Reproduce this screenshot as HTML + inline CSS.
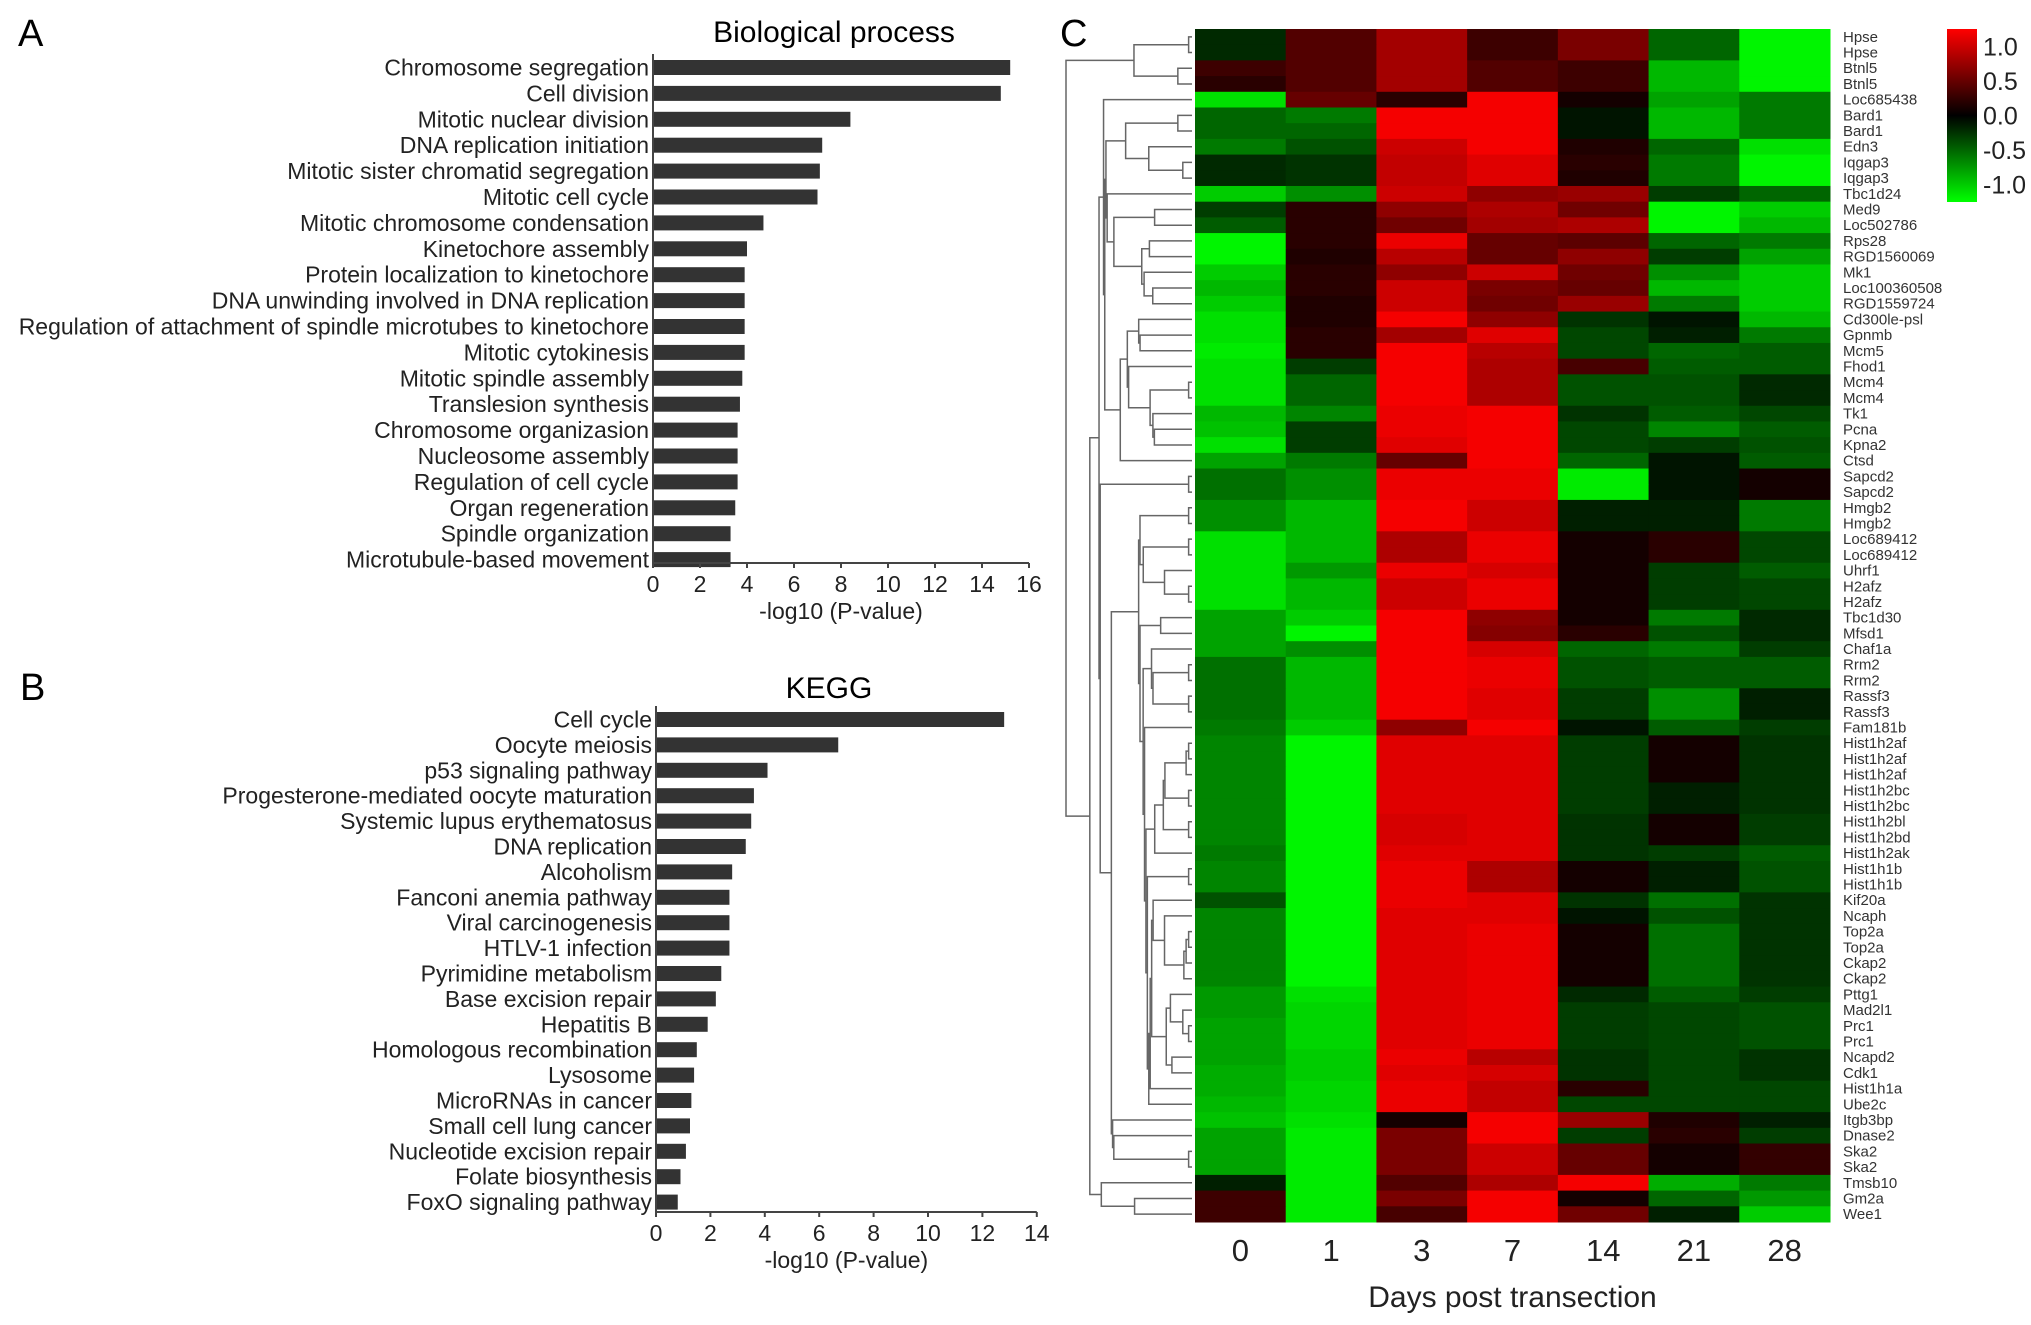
<!DOCTYPE html>
<html><head><meta charset="utf-8"><style>
html,body{margin:0;padding:0;background:#fff;}
svg{display:block;font-family:"Liberation Sans",sans-serif;}
</style></head><body>
<svg id="fig" width="2031" height="1325" viewBox="0 0 2031 1325" xmlns="http://www.w3.org/2000/svg">
<text x="18" y="46" font-size="38">A</text>
<text x="834" y="42" font-size="30" text-anchor="middle">Biological process</text>
<text x="20" y="700" font-size="38">B</text>
<text x="829" y="698" font-size="30" text-anchor="middle">KEGG</text>
<text x="1060" y="46" font-size="38">C</text>
<g id="gA"></g>
<g id="gB"></g>
<g id="gC"></g>
</svg>
<script>
const bpCategories=["Chromosome segregation","Cell division","Mitotic nuclear division","DNA replication initiation","Mitotic sister chromatid segregation","Mitotic cell cycle","Mitotic chromosome condensation","Kinetochore assembly","Protein localization to kinetochore","DNA unwinding involved in DNA replication","Regulation of attachment of spindle microtubes to kinetochore","Mitotic cytokinesis","Mitotic spindle assembly","Translesion synthesis","Chromosome organizasion","Nucleosome assembly","Regulation of cell cycle","Organ regeneration","Spindle organization","Microtubule-based movement"];
const bpValues=[15.2,14.8,8.4,7.2,7.1,7.0,4.7,4.0,3.9,3.9,3.9,3.9,3.8,3.7,3.6,3.6,3.6,3.5,3.3,3.3];
const bpTicks=[0,2,4,6,8,10,12,14,16];
const keggCategories=["Cell cycle","Oocyte meiosis","p53 signaling pathway","Progesterone-mediated oocyte maturation","Systemic lupus erythematosus","DNA replication","Alcoholism","Fanconi anemia pathway","Viral carcinogenesis","HTLV-1 infection","Pyrimidine metabolism","Base excision repair","Hepatitis B","Homologous recombination","Lysosome","MicroRNAs in cancer","Small cell lung cancer","Nucleotide excision repair","Folate biosynthesis","FoxO signaling pathway"];
const keggValues=[12.8,6.7,4.1,3.6,3.5,3.3,2.8,2.7,2.7,2.7,2.4,2.2,1.9,1.5,1.4,1.3,1.25,1.1,0.9,0.8];
const keggTicks=[0,2,4,6,8,10,12,14];
const days=["0","1","3","7","14","21","28"];
const genes=["Hpse","Hpse","Btnl5","Btnl5","Loc685438","Bard1","Bard1","Edn3","Iqgap3","Iqgap3","Tbc1d24","Med9","Loc502786","Rps28","RGD1560069","Mk1","Loc100360508","RGD1559724","Cd300le-psl","Gpnmb","Mcm5","Fhod1","Mcm4","Mcm4","Tk1","Pcna","Kpna2","Ctsd","Sapcd2","Sapcd2","Hmgb2","Hmgb2","Loc689412","Loc689412","Uhrf1","H2afz","H2afz","Tbc1d30","Mfsd1","Chaf1a","Rrm2","Rrm2","Rassf3","Rassf3","Fam181b","Hist1h2af","Hist1h2af","Hist1h2af","Hist1h2bc","Hist1h2bc","Hist1h2bl","Hist1h2bd","Hist1h2ak","Hist1h1b","Hist1h1b","Kif20a","Ncaph","Top2a","Top2a","Ckap2","Ckap2","Pttg1","Mad2l1","Prc1","Prc1","Ncapd2","Cdk1","Hist1h1a","Ube2c","Itgb3bp","Dnase2","Ska2","Ska2","Tmsb10","Gm2a","Wee1"];
const expr=[
[-0.2,0.4,0.8,0.3,0.6,-0.5,-1.2],[-0.2,0.4,0.8,0.3,0.6,-0.5,-1.2],
[0.3,0.4,0.8,0.4,0.3,-0.9,-1.2],[0.2,0.4,0.8,0.4,0.3,-0.9,-1.2],
[-1.1,0.5,0.2,1.2,0.1,-0.8,-0.6],
[-0.5,-0.6,1.2,1.2,-0.1,-0.9,-0.6],[-0.5,-0.5,1.2,1.2,-0.1,-0.9,-0.6],
[-0.6,-0.4,1.0,1.2,0.15,-0.5,-1.1],
[-0.2,-0.25,0.95,1.1,0.2,-0.6,-1.2],[-0.2,-0.25,0.95,1.1,0.15,-0.6,-1.2],
[-1.0,-0.7,1.0,0.7,0.75,-0.3,-0.5],
[-0.3,0.2,0.7,0.85,0.55,-1.2,-1.0],[-0.45,0.2,0.55,0.8,0.85,-1.2,-0.9],
[-1.2,0.2,1.15,0.5,0.45,-0.5,-0.6],[-1.2,0.15,0.9,0.5,0.7,-0.3,-0.8],
[-1.0,0.2,0.7,1.0,0.55,-0.7,-1.0],[-0.9,0.2,1.0,0.6,0.5,-0.9,-1.0],
[-1.0,0.15,1.0,0.55,0.75,-0.6,-1.0],
[-1.1,0.15,1.2,0.7,-0.25,-0.1,-0.9],[-1.1,0.2,0.8,1.1,-0.35,-0.15,-0.6],
[-1.15,0.2,1.2,0.9,-0.35,-0.5,-0.45],[-1.1,-0.3,1.2,0.85,0.35,-0.45,-0.45],
[-1.1,-0.5,1.2,0.85,-0.4,-0.4,-0.2],[-1.1,-0.5,1.2,0.85,-0.4,-0.4,-0.2],
[-0.9,-0.65,1.15,1.2,-0.25,-0.45,-0.35],[-0.95,-0.3,1.15,1.2,-0.35,-0.65,-0.45],
[-1.1,-0.3,1.1,1.2,-0.35,-0.3,-0.4],[-0.8,-0.6,0.5,1.2,-0.5,-0.1,-0.45],
[-0.55,-0.7,1.15,1.15,-1.15,-0.1,0.1],[-0.55,-0.7,1.15,1.15,-1.15,-0.1,0.1],
[-0.7,-0.9,1.2,1.0,-0.15,-0.15,-0.6],[-0.7,-0.9,1.2,1.0,-0.15,-0.15,-0.6],
[-1.1,-0.9,0.85,1.15,0.1,0.2,-0.35],[-1.1,-0.9,0.85,1.15,0.1,0.2,-0.35],
[-1.1,-0.75,1.15,1.05,0.1,-0.3,-0.45],
[-1.1,-0.9,1.0,1.15,0.1,-0.3,-0.35],[-1.1,-0.9,1.0,1.15,0.1,-0.3,-0.35],
[-0.8,-1.0,1.2,0.7,0.1,-0.6,-0.2],[-0.8,-1.2,1.2,0.65,0.2,-0.4,-0.2],
[-0.8,-0.7,1.2,1.05,-0.5,-0.6,-0.3],
[-0.55,-0.9,1.2,1.15,-0.4,-0.45,-0.45],[-0.55,-0.9,1.2,1.15,-0.4,-0.45,-0.45],
[-0.55,-0.9,1.2,1.1,-0.3,-0.7,-0.15],[-0.55,-0.9,1.2,1.1,-0.3,-0.7,-0.15],
[-0.6,-1.0,0.7,1.2,-0.1,-0.45,-0.3],
[-0.65,-1.2,1.1,1.1,-0.3,0.1,-0.25],[-0.65,-1.2,1.1,1.1,-0.3,0.1,-0.25],[-0.65,-1.2,1.1,1.1,-0.3,0.1,-0.25],
[-0.65,-1.2,1.1,1.1,-0.3,-0.15,-0.25],[-0.65,-1.2,1.1,1.1,-0.3,-0.15,-0.25],
[-0.65,-1.2,1.05,1.1,-0.25,0.1,-0.3],[-0.65,-1.2,1.05,1.1,-0.25,0.1,-0.3],
[-0.6,-1.2,1.1,1.1,-0.25,-0.3,-0.45],
[-0.65,-1.2,1.15,0.85,0.1,-0.15,-0.4],[-0.65,-1.2,1.15,0.85,0.1,-0.15,-0.4],
[-0.4,-1.2,1.15,1.1,-0.25,-0.55,-0.25],[-0.65,-1.2,1.1,1.1,-0.1,-0.4,-0.25],
[-0.65,-1.2,1.1,1.15,0.1,-0.55,-0.25],[-0.65,-1.2,1.1,1.15,0.1,-0.55,-0.25],
[-0.65,-1.2,1.1,1.15,0.1,-0.55,-0.25],[-0.65,-1.2,1.1,1.15,0.1,-0.55,-0.25],
[-0.75,-1.1,1.1,1.15,-0.2,-0.45,-0.3],[-0.75,-1.05,1.1,1.15,-0.3,-0.35,-0.4],
[-0.8,-1.05,1.1,1.15,-0.3,-0.35,-0.4],[-0.8,-1.05,1.1,1.15,-0.3,-0.35,-0.4],
[-0.8,-1.0,1.15,0.9,-0.25,-0.35,-0.25],[-0.85,-1.0,1.1,1.05,-0.25,-0.35,-0.25],
[-0.85,-1.05,1.15,0.95,0.2,-0.35,-0.35],[-0.9,-1.05,1.15,0.95,-0.35,-0.35,-0.35],
[-0.95,-1.1,0.1,1.2,0.75,0.15,-0.15],[-0.8,-1.15,0.6,1.2,-0.3,0.2,-0.3],
[-0.8,-1.15,0.6,1.0,0.5,0.1,0.25],[-0.8,-1.15,0.6,1.0,0.5,0.1,0.25],
[-0.15,-1.15,0.4,0.85,1.2,-0.85,-0.6],[0.3,-1.15,0.6,1.2,0.1,-0.5,-0.75],
[0.3,-1.15,0.35,1.2,0.55,-0.15,-1.0]];
const scaleTicks=[1.0,0.5,0.0,-0.5,-1.0];

const NS="http://www.w3.org/2000/svg";
function mk(tag,attrs,parent,text){const e=document.createElementNS(NS,tag);for(const k in attrs)e.setAttribute(k,attrs[k]);if(text!==undefined)e.textContent=text;parent.appendChild(e);return e;}

function barChart(g,cats,vals,ticks,x0,unit,top,pitch,axisY,prefix){
  const sx=v=>x0+v*unit;
  const bh=15;
  cats.forEach((c,i)=>{
    const y=top+i*pitch;
    const r=mk('rect',{x:sx(0),y:y,width:sx(vals[i])-sx(0),height:bh,fill:'#333'},g);
    
    
    const t=mk('text',{x:sx(0)-4,y:y+bh/2+8,'font-size':23,'text-anchor':'end',fill:'#222'},g,c);
    
    
  });
  const ax=mk('line',{x1:sx(0),y1:top-6,x2:sx(0),y2:axisY,stroke:'#444','stroke-width':2},g);
  
  
  const xa=mk('line',{x1:sx(0),y1:axisY,x2:sx(ticks[ticks.length-1]),y2:axisY,stroke:'#444','stroke-width':2},g);
  
  
  ticks.forEach(t=>{
    mk('line',{x1:sx(t),y1:axisY,x2:sx(t),y2:axisY+5,stroke:'#444','stroke-width':2},g);
    const tl=mk('text',{x:sx(t),y:axisY+29,'font-size':23,'text-anchor':'middle',fill:'#222'},g,String(t));
    
    
  });
  const xl=mk('text',{x:(sx(0)+sx(ticks[ticks.length-1]))/2,y:axisY+56,'font-size':23,'text-anchor':'middle',fill:'#222'},g,'-log10 (P-value)');
  
  
}
barChart(document.getElementById('gA'),bpCategories,bpValues,bpTicks,653,23.5,60,25.9,563,'bp');
barChart(document.getElementById('gB'),keggCategories,keggValues,keggTicks,656,27.2,712,25.4,1212,'kegg');

const gC=document.getElementById('gC');
const HX=1195,HR=1830,HT=29,HB=1222;
const cw=(HR-HX)/days.length, rh=(HB-HT)/genes.length;
const vmax=1.25;
function col(v){const t=Math.max(-1,Math.min(1,v/vmax));return t>=0?`rgb(${Math.round(255*t)},0,0)`:`rgb(0,${Math.round(255*-t)},0)`;}
expr.forEach((row,i)=>row.forEach((v,j)=>{
  const r=mk('rect',{x:HX+j*cw,y:HT+i*rh,width:cw+0.5,height:rh+0.5,fill:col(v)},gC);
  
  
}));
genes.forEach((g,i)=>{
  const t=mk('text',{x:1843,y:HT+(i+0.5)*rh+5,'font-size':15,fill:'#333'},gC,g);
  
  
});
days.forEach((d,j)=>{
  const t=mk('text',{x:HX+(j+0.5)*cw,y:1261,'font-size':31,'text-anchor':'middle',fill:'#222'},gC,d);
  
  
});
const xt=mk('text',{x:(HX+HR)/2,y:1307,'font-size':30,'text-anchor':'middle',fill:'#222'},gC,'Days post transection');


const defs=mk('defs',{},gC);
const lg=mk('linearGradient',{id:'cb',x1:0,y1:0,x2:0,y2:1},defs);
mk('stop',{offset:'0','stop-color':'#ff0000'},lg);
mk('stop',{offset:'0.5','stop-color':'#000000'},lg);
mk('stop',{offset:'1','stop-color':'#00ff00'},lg);
const CBT=29,CBB=202;
const cb=mk('rect',{x:1947,y:CBT,width:30,height:CBB-CBT,fill:'url(#cb)'},gC);


const cy=v=>(CBT+CBB)/2-v/vmax*(CBB-CBT)/2;
scaleTicks.forEach(v=>{
  const t=mk('text',{x:1983,y:cy(v)+9,'font-size':25,fill:'#222'},gC,v.toFixed(1));
  
  
});
let clusters=expr.map((r,i)=>({rows:[i],y:HT+(i+0.5)*rh,h:0,vec:r.slice()}));
const dist=(a,b)=>Math.sqrt(a.vec.reduce((s,v,k)=>s+(v-b.vec[k])**2,0));
const merges=[];
while(clusters.length>1){
  let bi=0,bd=Infinity;
  for(let i=0;i<clusters.length-1;i++){const d=dist(clusters[i],clusters[i+1]);if(d<bd){bd=d;bi=i;}}
  const a=clusters[bi],b=clusters[bi+1];
  const n=a.rows.length+b.rows.length;
  const h=Math.max(bd,a.h,b.h)+0.02;
  const m={rows:a.rows.concat(b.rows),y:(a.y+b.y)/2,h:h,vec:a.vec.map((v,k)=>(v*a.rows.length+b.vec[k]*b.rows.length)/n)};
  merges.push([a,b,m]);
  clusters.splice(bi,2,m);
}
const hmax=clusters[0].h;
const dx=h=>1192-Math.pow(h/hmax,0.8)*126;
merges.forEach(([a,b,m])=>{
  const xm=dx(m.h);
  const p=mk('path',{d:`M${dx(a.h)},${a.y}H${xm}V${b.y}H${dx(b.h)}`,fill:'none',stroke:'#666','stroke-width':1.5},gC);
  
  
});
</script>
</body></html>
